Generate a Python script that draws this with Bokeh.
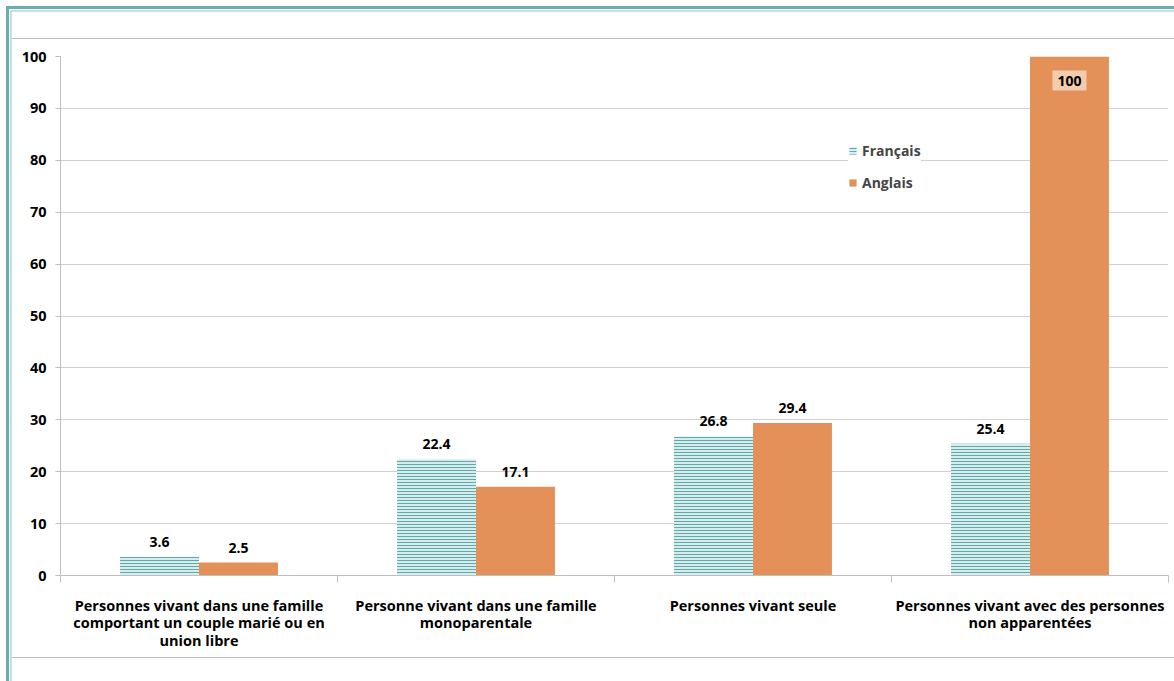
from bokeh.plotting import figure
from bokeh.models import (ColumnDataSource, Range1d, FixedTicker, Legend, LegendItem)
from bokeh.transform import dodge
from bokeh.core.properties import value
from bokeh.embed import file_html
from bokeh.resources import INLINE

categories = [
    "Personnes vivant dans une famille\ncomportant un couple marié ou en\nunion libre",
    "Personne vivant dans une famille\nmonoparentale",
    "Personnes vivant seule",
    "Personnes vivant avec des personnes\nnon apparentées",
]
series_names = ["Français", "Anglais"]
francais = [3.6, 22.4, 26.8, 25.4]
anglais = [2.5, 17.1, 29.4, 100]
y_ticks = list(range(0, 101, 10))

FONT = "Open Sans"
ORANGE = "#E39158"
TEAL_FILL = "#d6eded"
TEAL_HATCH = "#64a7aa"
GRID = "#d0d0d0"
AXIS = "#bfbfbf"
FRAME_TEAL = "#6aaeb2"
FRAME_LIGHT = "#c2e0e2"

n = len(categories)
centers = [i + 0.5 for i in range(n)]          # category slot centres
boundaries = list(range(n + 1))                # category slot edges

p = figure(width=1174, height=681,
           x_range=Range1d(0, n), y_range=Range1d(0, 100),
           output_backend="svg", toolbar_location=None,
           min_border_left=60, min_border_right=6, min_border_top=56, min_border_bottom=106)
p.outline_line_color = None
p.background_fill_color = "white"
p.border_fill_color = None
# decorative outer frame of the chart area (drawn behind the transparent canvas border)
p.styles = {"background": (
    f"linear-gradient({FRAME_TEAL},{FRAME_TEAL}) 6px 6px / 3px 100% no-repeat, "
    f"linear-gradient({FRAME_TEAL},{FRAME_TEAL}) 6px 6px / 100% 3px no-repeat, "
    f"linear-gradient({FRAME_LIGHT},{FRAME_LIGHT}) 10px 10px / 2px 100% no-repeat, "
    f"linear-gradient({FRAME_LIGHT},{FRAME_LIGHT}) 10px 10px / 100% 2px no-repeat, "
    f"linear-gradient({AXIS},{AXIS}) 10px 38px / 100% 1px no-repeat, "
    f"linear-gradient({AXIS},{AXIS}) 10px 657px / 100% 1px no-repeat, "
    "white")}

OFF = 0.1425
W = 0.285
src = ColumnDataSource(dict(x=centers, fr=francais, an=anglais))
r_fr = p.vbar(x=dodge("x", -OFF), top="fr", width=W, source=src,
              fill_color=TEAL_FILL, hatch_pattern="horizontal_line", hatch_color=TEAL_HATCH,
              hatch_scale=3, hatch_weight=1, line_color=None)
r_an = p.vbar(x=dodge("x", OFF), top="an", width=W, source=src,
              fill_color=ORANGE, line_color=None)

def fmt(v):
    return f"{v:g}"

for vals, off in ((francais, -OFF), (anglais, OFF)):
    out_x = [c for c, v in zip(centers, vals) if v < 95]
    out_v = [v for v in vals if v < 95]
    in_x = [c for c, v in zip(centers, vals) if v >= 95]
    in_v = [v for v in vals if v >= 95]
    s_out = ColumnDataSource(dict(x=out_x, v=out_v, t=[fmt(v) for v in out_v]))
    p.text(x=dodge("x", off), y="v", text="t", source=s_out,
           text_align="center", text_baseline="bottom", y_offset=-10,
           text_font=value(FONT), text_font_style="bold", text_font_size="14px",
           text_color="black")
    if in_x:
        s_in = ColumnDataSource(dict(x=in_x, v=in_v, t=[fmt(v) for v in in_v]))
        p.text(x=dodge("x", off), y="v", text="t", source=s_in,
               text_align="center", text_baseline="middle", y_offset=24,
               text_font=value(FONT), text_font_style="bold", text_font_size="14px",
               text_color="black", background_fill_color="#f3ccae", padding=5)

# y axis
p.yaxis.ticker = FixedTicker(ticks=y_ticks)
p.yaxis.axis_line_color = AXIS
p.yaxis.major_tick_line_color = AXIS
p.yaxis.major_tick_out = 5
p.yaxis.major_tick_in = 0
p.yaxis.minor_tick_line_color = None
p.yaxis.major_label_standoff = 9
p.yaxis.major_label_text_font = FONT
p.yaxis.major_label_text_font_style = "bold"
p.yaxis.major_label_text_font_size = "14.5px"
p.yaxis.major_label_text_color = "black"
p.ygrid.ticker = FixedTicker(ticks=y_ticks)
p.ygrid.grid_line_color = GRID
p.xgrid.visible = False

# x axis: labels at slot centres, short ticks at slot edges
xa = p.xaxis[0]
xa.ticker = FixedTicker(ticks=centers, minor_ticks=boundaries)
xa.major_label_overrides = {c: lab for c, lab in zip(centers, categories)}
xa.axis_line_color = AXIS
xa.major_tick_line_color = None
xa.major_tick_out = 0
xa.major_tick_in = 0
xa.minor_tick_line_color = AXIS
xa.minor_tick_out = 7
xa.minor_tick_in = 0
xa.major_label_standoff = 13
xa.major_label_text_font = FONT
xa.major_label_text_font_style = "bold"
xa.major_label_text_font_size = "14.5px"
xa.major_label_text_color = "black"
xa.major_label_text_line_height = 0.94

# legend
legend = Legend(items=[LegendItem(label=series_names[0], renderers=[r_fr]),
                       LegendItem(label=series_names[1], renderers=[r_an])],
                location=(788, 383), orientation="vertical",
                border_line_color=None, background_fill_color="white", background_fill_alpha=1,
                label_text_font=FONT, label_text_font_style="bold", label_text_font_size="14px",
                glyph_width=9, glyph_height=9, spacing=12, padding=5, margin=0,
                label_standoff=5, label_height=20)
p.add_layout(legend)

open("out.html", "w").write(file_html(p, INLINE))
